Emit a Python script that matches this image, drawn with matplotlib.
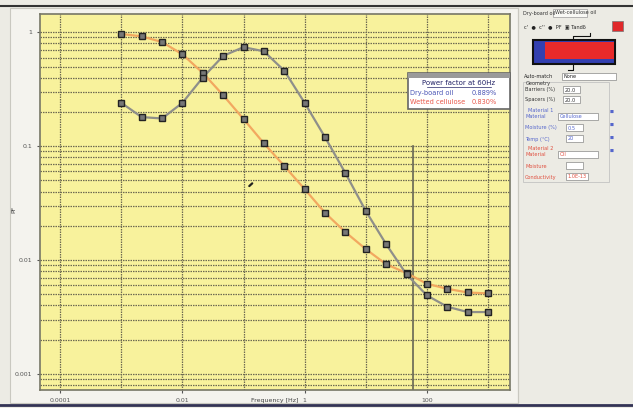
import numpy as np
import matplotlib
matplotlib.use("Agg")
import matplotlib.pyplot as plt
from matplotlib.patches import Rectangle

# frequency points, one every third of a decade (Hz)
freq_exp = [-3, -2.667, -2.333, -2, -1.667, -1.333, -1, -0.667, -0.333, 0,
            0.333, 0.667, 1, 1.333, 1.667, 2, 2.333, 2.667, 3]
pf_dry = [0.24, 0.18, 0.175, 0.24, 0.40, 0.62, 0.74, 0.68, 0.46, 0.24,
          0.12, 0.058, 0.027, 0.0138, 0.0075, 0.0049, 0.0039, 0.0035, 0.0035]
pf_wet = [0.965, 0.92, 0.82, 0.64, 0.44, 0.28, 0.173, 0.106, 0.067, 0.042,
          0.026, 0.0176, 0.0125, 0.0092, 0.0077, 0.0062, 0.0056, 0.0052, 0.0051]
x_ticks = [1e-4, 1e-2, 1, 100]
x_ticklabels = ["0.0001", "0.01", "1", "100"]
y_ticks = [1, 0.1, 0.01, 0.001]
y_ticklabels = ["1", "0.1", "0.01", "0.001"]
marker_freq = 60

W, H = 633, 408
GRID = "#6e6a52"
fig = plt.figure(figsize=(W / 100, H / 100), dpi=100)
fig.patch.set_facecolor("#ecebe4")

# outer chart panel
bg = fig.add_axes([0, 0, 1, 1])
bg.set_xlim(0, W)
bg.set_ylim(H, 0)
bg.axis("off")
bg.add_patch(Rectangle((10, 8), 508, 395, facecolor="#f4f3ee", edgecolor="#c9c8c0", lw=0.8))
bg.plot([0, W], [6, 6], color="#333333", lw=1.5)
bg.plot([0, W], [405, 405], color="#333355", lw=2)
bg.plot([518, 518], [8, 403], color="#c9c8c0", lw=0.8)

ax = fig.add_axes([40 / W, 1 - 390 / H, 470 / W, 376 / H])
ax.set_facecolor("#f8f29c")
f = [10 ** e for e in freq_exp]
ax.plot(f, pf_wet, color="#f2a860", lw=1.6, zorder=3)
ax.plot(f, pf_wet, ls="none", marker="s", ms=4, mfc="#777777", mec="#222222", mew=1.0, zorder=4)
ax.plot(f, pf_dry, color="#8f8f8a", lw=1.6, zorder=3)
ax.plot(f, pf_dry, ls="none", marker="s", ms=4, mfc="#777777", mec="#222222", mew=1.0, zorder=4)
ax.axvline(marker_freq, ymin=0, ymax=0.65, color="#666655", lw=1.2, zorder=2)

ax.set_xscale("log")
ax.set_yscale("log")
ax.set_xlim(10 ** -4.33, 10 ** 3.36)
ax.set_ylim(10 ** -3.14, 10 ** 0.16)
ax.set_xticks(x_ticks)
ax.set_xticklabels(x_ticklabels)
ax.set_xticks([], minor=True)
ax.set_yticks(y_ticks)
ax.set_yticklabels(y_ticklabels)
ax.set_yticks([], minor=True)
ax.tick_params(labelsize=4.5, colors="#555555", length=2)
for x in [1e-4, 1e-3, 1e-2, 1e-1, 1, 10, 100, 1000]:
    ax.axvline(x, color=GRID, lw=0.9, ls=(0, (1.2, 0.8)), zorder=1)
for d in [1, 0.1, 0.01, 0.001]:
    for m in range(2, 11):
        ax.axhline(d * m / 10, color=GRID, lw=0.9, ls=(0, (1.2, 0.8)), zorder=1)
for s in ax.spines.values():
    s.set_color("#777766")
    s.set_linewidth(1.2)
ax.set_xlabel("Frequency [Hz]", fontsize=4.5, color="#444444")
ax.xaxis.set_label_coords(0.5, -0.022)
ax.set_ylabel("PF", fontsize=4.5, color="#444444")
ax.yaxis.set_label_coords(-0.05, 0.48)

# little cursor
ax.annotate("", xy=(0.15, 0.049), xytext=(0.115, 0.043),
            arrowprops=dict(arrowstyle="-", color="#222222", lw=1.6))

# overlay: power factor box + side panel
ov = fig.add_axes([0, 0, 1, 1])
ov.set_xlim(0, W)
ov.set_ylim(H, 0)
ov.axis("off")
ov.patch.set_alpha(0)
ov.add_patch(Rectangle((408, 73), 102, 36, facecolor="white", edgecolor="#666666", lw=1.2))
ov.add_patch(Rectangle((408, 73), 102, 5, facecolor="#9a9a9a", edgecolor="none"))
ov.text(459, 83, "Power factor at 60Hz", fontsize=5, color="#222266", ha="center", va="center")
ov.plot([427, 491], [86.5, 86.5], color="#222266", lw=0.5)
ov.text(410, 93, "Dry-board oil", fontsize=4.8, color="#4a55b5", va="center")
ov.text(472, 93, "0.889%", fontsize=4.8, color="#4a55b5", va="center")
ov.text(410, 102, "Wetted cellulose", fontsize=4.8, color="#e8584a", va="center")
ov.text(472, 102, "0.830%", fontsize=4.8, color="#e8584a", va="center")

fs = 3.6
ov.text(523, 13, "Dry-board oil", fontsize=fs, color="#333333", va="center")
ov.add_patch(Rectangle((553, 9), 34, 8, facecolor="#f8f8f4", edgecolor="#999999", lw=0.5))
ov.text(555, 13, "Wet-cellulose oil", fontsize=fs, color="#333333", va="center")
ov.text(524, 27, "c'  \u25cf  c''  \u25cf  PF  \u25a3 Tand\u03b4", fontsize=fs, color="#222222", va="center")
ov.add_patch(Rectangle((612, 21), 11, 10, facecolor="#e0282a", edgecolor="#777777", lw=0.5))
ov.add_patch(Rectangle((533, 40), 82, 24, facecolor="#3340b0", edgecolor="#111111", lw=1.5))
ov.add_patch(Rectangle((545, 41.5), 69, 17, facecolor="#e82a2a", edgecolor="none"))
ov.plot([573, 573, 590, 590], [40, 36, 36, 33], color="#111111", lw=0.8)
ov.plot([573, 573, 568], [64, 70, 70], color="#111111", lw=0.8)
ov.text(524, 77, "Auto-match", fontsize=fs, color="#222222", va="center")
ov.add_patch(Rectangle((562, 73), 54, 7, facecolor="white", edgecolor="#888888", lw=0.5))
ov.text(564, 77, "None", fontsize=fs, color="#222222", va="center")
ov.add_patch(Rectangle((523, 82), 86, 100, facecolor="none", edgecolor="#bbbbbb", lw=0.5))
ov.text(526, 84, "Geometry", fontsize=fs, color="#333333", va="center")
rows = [
    (90, "Barriers (%)", "20.0", 563, 17, "#333333"),
    (100, "Spacers (%)", "20.0", 563, 17, "#333333"),
    (117, "Material", "Cellulose", 558, 40, "#5566cc"),
    (128, "Moisture (%)", "0.5", 566, 17, "#5566cc"),
    (139, "Temp (\u00b0C)", "20", 566, 17, "#5566cc"),
    (155, "Material", "Oil", 558, 40, "#e05040"),
    (166, "Moisture", "", 566, 17, "#e05040"),
    (177, "Conductivity", "1.0E-13", 566, 22, "#e05040"),
]
for yy, lab, val, bx, bw, col in rows:
    ov.text(525, yy, lab, fontsize=fs, color=col, va="center")
    ov.add_patch(Rectangle((bx, yy - 4), bw, 7, facecolor="white", edgecolor="#888888", lw=0.5))
    ov.text(bx + 1.5, yy, val, fontsize=fs, color=col, va="center")
ov.text(528, 111, "Material 1", fontsize=fs, color="#5566cc", va="center")
ov.text(528, 149, "Material 2", fontsize=fs, color="#e05040", va="center")
for yy in [112, 125, 138, 151]:
    ov.text(612, yy, "\u25a0", fontsize=3, color="#5566cc", ha="center", va="center")

fig.savefig("out.png", dpi=100)
